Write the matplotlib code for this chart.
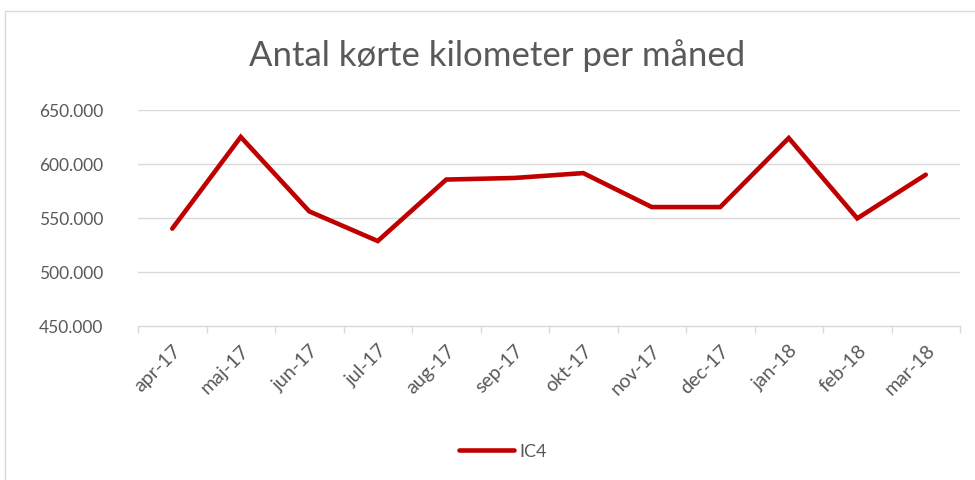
import matplotlib
matplotlib.use("Agg")
import matplotlib.pyplot as plt
from matplotlib.patches import Rectangle

months = ["apr-17", "maj-17", "jun-17", "jul-17", "aug-17", "sep-17",
          "okt-17", "nov-17", "dec-17", "jan-18", "feb-18", "mar-18"]
ic4 = [540000, 625000, 556000, 528500, 585500, 587000,
       591500, 560000, 560000, 624000, 549500, 590000]
yticks = [450000, 500000, 550000, 600000, 650000]

plt.rcParams['font.family'] = ['Lato', 'DejaVu Sans']
txt = '#595959'
grid = '#d9d9d9'

fig = plt.figure(figsize=(9.75, 4.81), dpi=100)
fig.patches.append(Rectangle((5/975, -0.1), 1.2, 1.1 - 12/481, transform=fig.transFigure,
                             fill=False, edgecolor=grid, linewidth=1))

ax = fig.add_axes([138/975, 1-326.7/481, 822/975, (326.7-111)/481])
x = list(range(len(months)))
ax.plot(x, ic4, color='#c00000', linewidth=3.3, solid_capstyle='round',
        solid_joinstyle='miter', label='IC4')
ax.set_xlim(-0.5, len(months)-0.5)
ax.set_ylim(yticks[0], yticks[-1])
ax.set_yticks(yticks)
ax.set_yticklabels([f"{v:,.0f}".replace(",", ".") for v in yticks], fontsize=12.5, color=txt)
ax.set_xticks(x)
ax.set_xticklabels(months, rotation=45, ha='right', va='top', rotation_mode='anchor',
                   fontsize=14, color=txt)
ax.set_xticks([i - 0.5 for i in range(len(months)+1)], minor=True)
ax.tick_params(axis='x', which='major', length=0, pad=11)
ax.tick_params(axis='x', which='minor', length=5, color=grid, width=1)
ax.tick_params(axis='y', length=0, pad=25)
for yv in yticks[1:]:
    ax.axhline(yv, color=grid, linewidth=1, zorder=0)
for s in ['top', 'right', 'left']:
    ax.spines[s].set_visible(False)
ax.spines['bottom'].set_color(grid)
ax.spines['bottom'].set_linewidth(1)

fig.text(497/975, 1-56/481, "Antal kørte kilometer per måned", ha='center', va='center',
         fontsize=25, color=txt)

leg = fig.legend(loc='center', bbox_to_anchor=(503/975, 1-452/481), frameon=False,
                 fontsize=13, handlelength=3.0, handletextpad=0.3)
for t in leg.get_texts():
    t.set_color(txt)

fig.savefig("out.png", dpi=100)
